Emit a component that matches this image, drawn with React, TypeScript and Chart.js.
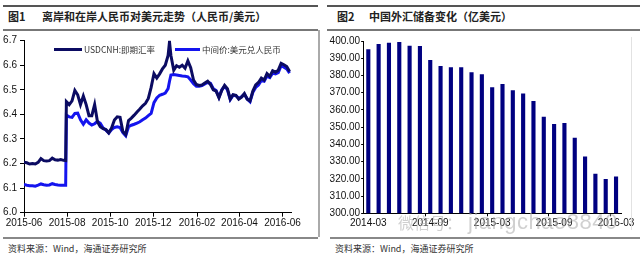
import React, { useEffect, useRef } from 'react';
import { Chart, registerables } from 'chart.js';
Chart.register(...registerables);

// ---------- Figure 1 data ----------
const fxDates = [
  '2015-06-01','2015-06-05','2015-06-09','2015-06-13','2015-06-17','2015-06-21','2015-06-25','2015-06-29',
  '2015-07-03','2015-07-07','2015-07-11','2015-07-15','2015-07-19','2015-07-23','2015-07-27','2015-07-30',
  '2015-07-31','2015-08-04','2015-08-08','2015-08-12','2015-08-16','2015-08-20','2015-08-24','2015-08-28',
  '2015-09-01','2015-09-05','2015-09-09','2015-09-13','2015-09-17','2015-09-21','2015-09-25','2015-09-29',
  '2015-10-03','2015-10-07','2015-10-11','2015-10-15','2015-10-19','2015-10-23','2015-10-27','2015-10-31',
  '2015-11-04','2015-11-08','2015-11-12','2015-11-16','2015-11-20','2015-11-24','2015-11-28','2015-12-02',
  '2015-12-06','2015-12-10','2015-12-14','2015-12-18','2015-12-22','2015-12-24','2015-12-26','2015-12-30',
  '2016-01-03','2016-01-07','2016-01-11','2016-01-15','2016-01-19','2016-01-23','2016-01-27','2016-01-31',
  '2016-02-04','2016-02-08','2016-02-12','2016-02-16','2016-02-20','2016-02-24','2016-02-28','2016-03-03',
  '2016-03-07','2016-03-11','2016-03-15','2016-03-19','2016-03-23','2016-03-27','2016-03-31','2016-04-04',
  '2016-04-08','2016-04-12','2016-04-16','2016-04-20','2016-04-24','2016-04-28','2016-05-02','2016-05-06',
  '2016-05-10','2016-05-14','2016-05-18','2016-05-22','2016-05-26','2016-05-30','2016-06-03','2016-06-07',
  '2016-06-11',
];

const cnhSpot = [
  6.205, 6.203, 6.198, 6.200, 6.198, 6.205, 6.220, 6.212, 6.210, 6.212, 6.222, 6.215, 6.214, 6.216, 6.213, 6.212,
  6.452, 6.440, 6.455, 6.498, 6.480, 6.440, 6.475, 6.440, 6.395, 6.395,
  6.440, 6.370, 6.350, 6.342, 6.338, 6.325, 6.345, 6.377, 6.390, 6.388,
  6.330, 6.318, 6.375, 6.385, 6.397, 6.410, 6.422, 6.435, 6.445, 6.465,
  6.510, 6.566, 6.548, 6.565, 6.585, 6.600, 6.640,
  6.695,
  6.640, 6.580, 6.598, 6.592, 6.600, 6.588, 6.618, 6.590, 6.540, 6.522,
  6.518, 6.520, 6.528, 6.535, 6.522, 6.500, 6.495, 6.468, 6.498, 6.518,
  6.505, 6.462, 6.480, 6.478, 6.462, 6.470, 6.485, 6.462, 6.455, 6.495,
  6.520, 6.530, 6.548, 6.540, 6.566, 6.555, 6.578, 6.572, 6.580, 6.608,
  6.602, 6.595, 6.575,
];

const cnyMid = [
  6.115, 6.112, 6.110, 6.110, 6.108, 6.112, 6.117, 6.114, 6.112, 6.113, 6.118, 6.115, 6.113, 6.112, 6.112, 6.112,
  6.397, 6.390, 6.388, 6.404, 6.405, 6.378, 6.360, 6.378, 6.365, 6.357,
  6.362, 6.372, 6.364, 6.345, 6.336, 6.324, 6.338, 6.347, 6.350, 6.347,
  6.326, 6.313, 6.350, 6.356, 6.360, 6.365, 6.370, 6.378, 6.385, 6.395,
  6.404, 6.448, 6.467, 6.478, 6.482, 6.487, 6.505,
  6.535,
  6.560, 6.562, 6.560, 6.558, 6.556, 6.555, 6.553, 6.540, 6.525, 6.515,
  6.515, 6.517, 6.524, 6.530, 6.527, 6.505, 6.497, 6.470, 6.500, 6.515,
  6.500, 6.460, 6.478, 6.476, 6.465, 6.472, 6.482, 6.463, 6.452, 6.490,
  6.510, 6.520, 6.538, 6.535, 6.556, 6.550, 6.568, 6.565, 6.570, 6.598,
  6.592, 6.585, 6.568,
];

const fxRange = ['2015-06-01', '2016-06-13'];
const fxTickDates = ['2015-06-01','2015-08-01','2015-10-01','2015-12-01','2016-02-01','2016-04-01','2016-06-01'];
const fxTickLabels = ['2015-06','2015-08','2015-10','2015-12','2016-02','2016-04','2016-06'];
const fxYTicks = [6.0, 6.1, 6.2, 6.3, 6.4, 6.5, 6.6, 6.7];
const fxSeriesNames = ['USDCNH:即期汇率', '中间价:美元兑人民币'];

// ---------- Figure 2 data ----------
const reserveMonths = [
  '2014-03','2014-04','2014-05','2014-06','2014-07','2014-08','2014-09','2014-10','2014-11','2014-12',
  '2015-01','2015-02','2015-03','2015-04','2015-05','2015-06','2015-07','2015-08','2015-09','2015-10',
  '2015-11','2015-12','2016-01','2016-02','2016-03',
];
const reserveValues = [
  395.2, 398.3, 399.0, 399.4, 397.3, 397.1, 389.0, 385.5, 384.7, 384.7,
  381.8, 380.7, 373.1, 375.1, 371.4, 369.6, 365.2, 356.1, 351.8, 352.4,
  343.9, 332.9, 323.0, 319.9, 321.3,
];
const reserveTickLabels = ['2014-03','2014-09','2015-03','2015-09','2016-03'];
const reserveYTicks = [300, 310, 320, 330, 340, 350, 360, 370, 380, 390, 400];

const DARK = '#0b0b62';
const BLUE = '#1414ee';
const NAVY = '#000080';
const NUM_FONT = '"Liberation Sans", Arial, sans-serif';
const NARROW_FONT = '"Liberation Sans Narrow", "Arial Narrow", "Liberation Sans", Arial, sans-serif';
const CJK_FONT = '"Noto Sans CJK SC", "Noto Sans", sans-serif';

const base = Date.UTC(2015, 5, 1);
const toDay = (s: string) => {
  const [y, m, d] = s.split('-').map(Number);
  return (Date.UTC(y, m - 1, d) - base) / 86400000;
};

function FxChart() {
  const ref = useRef<HTMLCanvasElement>(null);
  useEffect(() => {
    const xs = fxDates.map(toDay);
    const chart = new Chart(ref.current as HTMLCanvasElement, {
      type: 'line',
      data: {
        datasets: [
          {
            label: fxSeriesNames[0],
            data: xs.map((x, i) => ({ x, y: cnhSpot[i] })),
            borderColor: DARK,
            borderWidth: 3,
            pointRadius: 0,
            tension: 0,
          },
          {
            label: fxSeriesNames[1],
            data: xs.map((x, i) => ({ x, y: cnyMid[i] })),
            borderColor: BLUE,
            borderWidth: 3,
            pointRadius: 0,
            tension: 0,
          },
        ],
      },
      options: {
        responsive: false,
        animation: false,
        layout: { padding: { top: 10.7, right: 27, left: 0, bottom: 0 } },
        plugins: { legend: { display: false }, tooltip: { enabled: false } },
        scales: {
          x: {
            type: 'linear',
            min: toDay(fxRange[0]),
            max: toDay(fxRange[1]),
            afterBuildTicks: (s: any) => {
              s.ticks = fxTickDates.map((d) => ({ value: toDay(d) }));
            },
            afterFit: (s: any) => {
              s.height = 17.3;
            },
            ticks: {
              autoSkip: false,
              maxRotation: 0,
              padding: 1,
              color: '#111',
              font: { family: NARROW_FONT, size: 10 },
              callback: (_v: any, i: number) => fxTickLabels[i],
            },
            grid: { drawOnChartArea: false, drawTicks: true, tickLength: 4, color: '#000' },
            border: { display: true, color: '#000', width: 1 },
          },
          y: {
            type: 'linear',
            min: 6.0,
            max: 6.7,
            afterBuildTicks: (s: any) => {
              s.ticks = fxYTicks.map((v) => ({ value: v }));
            },
            afterFit: (s: any) => {
              s.width = 24;
            },
            ticks: {
              padding: 3,
              color: '#111',
              font: { family: NUM_FONT, size: 10 },
              callback: (v: any) => Number(v).toFixed(1),
            },
            grid: { drawOnChartArea: false, drawTicks: true, tickLength: 4, color: '#000' },
            border: { display: true, color: '#000', width: 1 },
          },
        },
      },
    });
    return () => chart.destroy();
  }, []);
  return <canvas ref={ref} width={318} height={200} style={{ position: 'absolute', left: 0, top: 30, width: 318, height: 200 }} />;
}

function ReserveChart() {
  const ref = useRef<HTMLCanvasElement>(null);
  useEffect(() => {
    const tickIdx = reserveTickLabels.map((l) => reserveMonths.indexOf(l));
    const chart = new Chart(ref.current as HTMLCanvasElement, {
      type: 'bar',
      data: {
        labels: reserveMonths,
        datasets: [
          {
            label: '外汇储备',
            data: reserveValues,
            backgroundColor: NAVY,
            borderWidth: 0,
            barPercentage: 0.4,
            categoryPercentage: 1,
          },
        ],
      },
      options: {
        responsive: false,
        animation: false,
        layout: { padding: { top: 11, right: 16.8, left: 0, bottom: 0 } },
        plugins: { legend: { display: false }, tooltip: { enabled: false } },
        scales: {
          x: {
            type: 'category',
            afterFit: (s: any) => {
              s.height = 16.7;
            },
            ticks: {
              autoSkip: false,
              maxRotation: 0,
              padding: 1,
              color: '#111',
              font: { family: NARROW_FONT, size: 10 },
              callback: (_v: any, i: number) => (tickIdx.includes(i) ? reserveMonths[i] : ''),
            },
            grid: {
              offset: true,
              drawOnChartArea: false,
              drawTicks: true,
              tickLength: 3,
              color: (ctx: any) => ([6, 12, 18, 24].includes(ctx.index) ? '#000' : 'rgba(0,0,0,0)'),
            },
            border: { display: true, color: '#000', width: 1 },
          },
          y: {
            type: 'linear',
            min: 300,
            max: 400,
            afterBuildTicks: (s: any) => {
              s.ticks = reserveYTicks.map((v) => ({ value: v }));
            },
            afterFit: (s: any) => {
              s.width = 43.15;
            },
            ticks: {
              padding: 1,
              color: '#111',
              font: { family: NUM_FONT, size: 10 },
              callback: (v: any) => Number(v).toFixed(2),
            },
            grid: { drawOnChartArea: false, drawTicks: true, tickLength: 2, color: '#000' },
            border: { display: true, color: '#000', width: 1 },
          },
        },
      },
    });
    return () => chart.destroy();
  }, []);
  return <canvas ref={ref} width={318} height={200} style={{ position: 'absolute', left: 320, top: 30, width: 318, height: 200 }} />;
}

const abs = (s: React.CSSProperties): React.CSSProperties => ({ position: 'absolute', ...s });

export default function App() {
  useEffect(() => {
    document.body.style.margin = '0';
  }, []);
  const titleStyle: React.CSSProperties = {
    fontFamily: CJK_FONT,
    fontSize: 11,
    fontWeight: 700,
    color: '#222',
    lineHeight: '14px',
    whiteSpace: 'nowrap',
  };
  const srcStyle: React.CSSProperties = {
    fontFamily: CJK_FONT,
    fontSize: 9,
    color: '#333',
    lineHeight: '12px',
    whiteSpace: 'nowrap',
  };
  const legStyle: React.CSSProperties = {
    fontFamily: CJK_FONT,
    fontSize: 8.5,
    color: '#333',
    lineHeight: '12px',
    whiteSpace: 'nowrap',
  };
  return (
    <div style={{ position: 'fixed', left: 0, top: 0, width: 640, height: 261, background: '#fff', overflow: 'hidden' }}>
      {/* header rules */}
      <div style={abs({ left: 3, top: 5, width: 315, height: 2, background: '#555' })} />
      <div style={abs({ left: 327, top: 5, width: 313, height: 2, background: '#555' })} />
      <div style={abs({ left: 3, top: 29, width: 315, height: 1.5, background: '#777' })} />
      <div style={abs({ left: 327, top: 29, width: 313, height: 1.5, background: '#777' })} />
      {/* titles */}
      <div style={abs({ ...titleStyle, left: 8, top: 9 })}>图1</div>
      <div style={abs({ ...titleStyle, left: 42, top: 9 })}>离岸和在岸人民币对美元走势（人民币/美元）</div>
      <div style={abs({ ...titleStyle, left: 337, top: 9 })}>图2</div>
      <div style={abs({ ...titleStyle, left: 369, top: 9 })}>中国外汇储备变化（亿美元）</div>

      <FxChart />
      <ReserveChart />

      {/* legend of figure 1 */}
      <div style={abs({ left: 54, top: 47.5, width: 28, height: 3, background: DARK })} />
      <div style={abs({ ...legStyle, left: 84, top: 43 })}>{fxSeriesNames[0]}</div>
      <div style={abs({ left: 175, top: 47.5, width: 25, height: 3, background: BLUE })} />
      <div style={abs({ ...legStyle, left: 202, top: 43 })}>{fxSeriesNames[1]}</div>

      {/* panel borders */}
      <div style={abs({ left: 318, top: 30, width: 1.5, height: 207, background: '#aaa' })} />
      <div style={abs({ left: 631, top: 37, width: 1, height: 193, background: '#e2e2e2' })} />

      {/* watermark */}
      <div style={abs({ left: 398, top: 211, fontFamily: CJK_FONT, fontSize: 16, color: 'rgba(170,170,170,0.55)', lineHeight: '22px', whiteSpace: 'nowrap' })}>微信号：</div>
      <div style={abs({ left: 468, top: 210, fontFamily: NUM_FONT, fontSize: 22, letterSpacing: 0.5, color: 'rgba(170,170,170,0.55)', lineHeight: '24px', whiteSpace: 'nowrap' })}>jiangchao8840</div>

      {/* footer rules and sources */}
      <div style={abs({ left: 3, top: 237, width: 315, height: 2, background: '#888' })} />
      <div style={abs({ left: 330, top: 237, width: 310, height: 2, background: '#888' })} />
      <div style={abs({ ...srcStyle, left: 8, top: 243 })}>资料来源：Wind，海通证券研究所</div>
      <div style={abs({ ...srcStyle, left: 335, top: 243 })}>资料来源：Wind，海通证券研究所</div>
    </div>
  );
}
